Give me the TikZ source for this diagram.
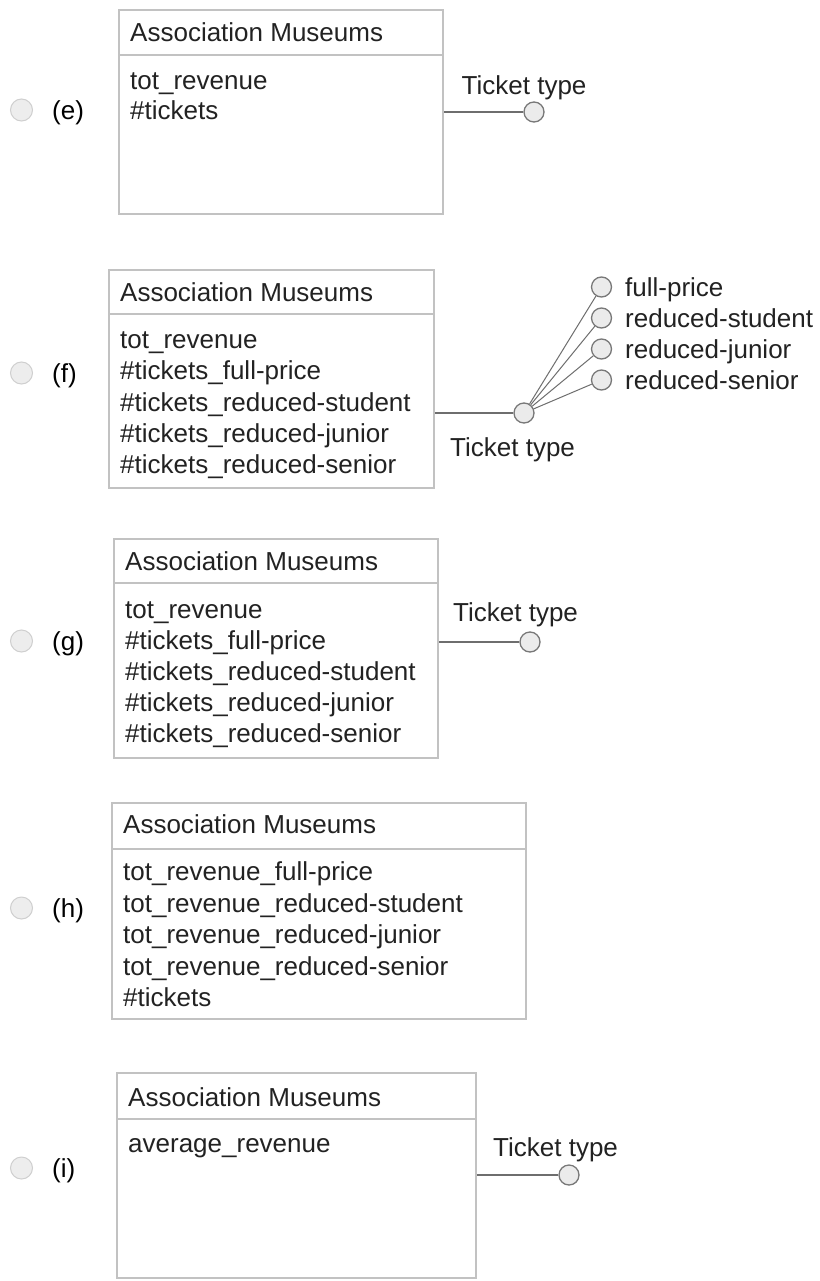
\documentclass[tikz,border=0pt]{standalone}
\usepackage{fontspec}
\setmainfont{Liberation Sans}
\definecolor{ink}{HTML}{222222}
\definecolor{boxgray}{HTML}{C2C2C2}
\definecolor{conngray}{HTML}{6E6E6E}
\definecolor{circfill}{HTML}{EBEBEB}
\definecolor{circdraw}{HTML}{787878}
\definecolor{radiofill}{HTML}{EDEDED}
\definecolor{radiodraw}{HTML}{CFCFCF}
\begin{document}
\begin{tikzpicture}[x=1pt,y=-1pt,
  txt/.style={font=\fontsize{26}{31}\selectfont, text=ink, inner sep=0pt,
              text height=19pt, text depth=0pt, anchor=west},
  optlabel/.style={txt, text=black},
  entity/.style={draw=boxgray, line width=2pt, fill=white, inner sep=0pt,
                 anchor=north west},
  divider/.style={draw=boxgray, line width=2pt},
  attr/.style={circle, draw=circdraw, fill=circfill, line width=1.3pt,
               minimum size=20pt, inner sep=0pt},
  radio/.style={circle, draw=radiodraw, fill=radiofill, line width=1pt,
                minimum size=22pt, inner sep=0pt},
  link/.style={draw=conngray, line width=2pt},
  branch/.style={draw=conngray, line width=1pt}]
\useasboundingbox[fill=white] (0,0) rectangle (819,1281);

% ---------- option (e)
\node[radio] (rE) at (21.5,110) {};
\node[optlabel] (lE) at (52,110) {(e)};
\node[entity, minimum width=324pt, minimum height=204pt] (bE) at (118,9) {};
\draw[divider] (118,55) -- (442,55);
\node[txt] (tE) at (130,32) {Association Museums};
\node[txt] (aE1) at (130,80) {tot\_revenue};
\node[txt] (aE2) at (130,110) {\#tickets};
\node[attr] (kE) at (534,112) {};
\draw[link] (bE.east |- kE) -- (kE);
\node[txt] (ttE) at (461.5,85) {Ticket type};

% ---------- option (f)
\node[radio] (rF) at (21.5,373) {};
\node[optlabel] (lF) at (52,373) {(f)};
\node[entity, minimum width=325pt, minimum height=218pt] (bF) at (108,269) {};
\draw[divider] (108,314) -- (433,314);
\node[txt] (tF) at (120,292) {Association Museums};
\node[txt] (aF1) at (120,338.5) {tot\_revenue};
\node[txt] (aF2) at (120,370) {\#tickets\_full-price};
\node[txt] (aF3) at (120,401.5) {\#tickets\_reduced-student};
\node[txt] (aF4) at (120,432.5) {\#tickets\_reduced-junior};
\node[txt] (aF5) at (120,463.5) {\#tickets\_reduced-senior};
\node[attr] (kF) at (524,413) {};
\draw[link] (bF.east |- kF) -- (kF);
\node[txt] (ttF) at (450,446.5) {Ticket type};
\node[attr] (vF1) at (601.5,287) {};
\node[attr] (vF2) at (601.5,318) {};
\node[attr] (vF3) at (601.5,349) {};
\node[attr] (vF4) at (601.5,380) {};
\node[txt] (wF1) at (625,287) {full-price};
\node[txt] (wF2) at (625,318) {reduced-student};
\node[txt] (wF3) at (625,349) {reduced-junior};
\node[txt] (wF4) at (625,380) {reduced-senior};
\foreach \v in {vF1,vF2,vF3,vF4} \draw[branch] (kF) -- (\v);

% ---------- option (g)
\node[radio] (rG) at (21.5,641) {};
\node[optlabel] (lG) at (52,641) {(g)};
\node[entity, minimum width=324pt, minimum height=219pt] (bG) at (113,538) {};
\draw[divider] (113,583) -- (437,583);
\node[txt] (tG) at (125,561) {Association Museums};
\node[txt] (aG1) at (125,608.5) {tot\_revenue};
\node[txt] (aG2) at (125,640) {\#tickets\_full-price};
\node[txt] (aG3) at (125,671) {\#tickets\_reduced-student};
\node[txt] (aG4) at (125,702) {\#tickets\_reduced-junior};
\node[txt] (aG5) at (125,733) {\#tickets\_reduced-senior};
\node[attr] (kG) at (530,642) {};
\draw[link] (bG.east |- kG) -- (kG);
\node[txt] (ttG) at (453,612) {Ticket type};

% ---------- option (h)
\node[radio] (rH) at (21.5,908) {};
\node[optlabel] (lH) at (52,908) {(h)};
\node[entity, minimum width=414pt, minimum height=216pt] (bH) at (111,802) {};
\draw[divider] (111,849) -- (525,849);
\node[txt] (tH) at (123,824) {Association Museums};
\node[txt] (aH1) at (123,871) {tot\_revenue\_full-price};
\node[txt] (aH2) at (123,902.5) {tot\_revenue\_reduced-student};
\node[txt] (aH3) at (123,934) {tot\_revenue\_reduced-junior};
\node[txt] (aH4) at (123,965.5) {tot\_revenue\_reduced-senior};
\node[txt] (aH5) at (123,997) {\#tickets};

% ---------- option (i)
\node[radio] (rI) at (21.5,1168) {};
\node[optlabel] (lI) at (52,1168) {(i)};
\node[entity, minimum width=359pt, minimum height=205pt] (bI) at (116,1072) {};
\draw[divider] (116,1119) -- (475,1119);
\node[txt] (tI) at (128,1097) {Association Museums};
\node[txt] (aI1) at (128,1143) {average\_revenue};
\node[attr] (kI) at (569,1175) {};
\draw[link] (bI.east |- kI) -- (kI);
\node[txt] (ttI) at (493,1147) {Ticket type};
\end{tikzpicture}
\end{document}
